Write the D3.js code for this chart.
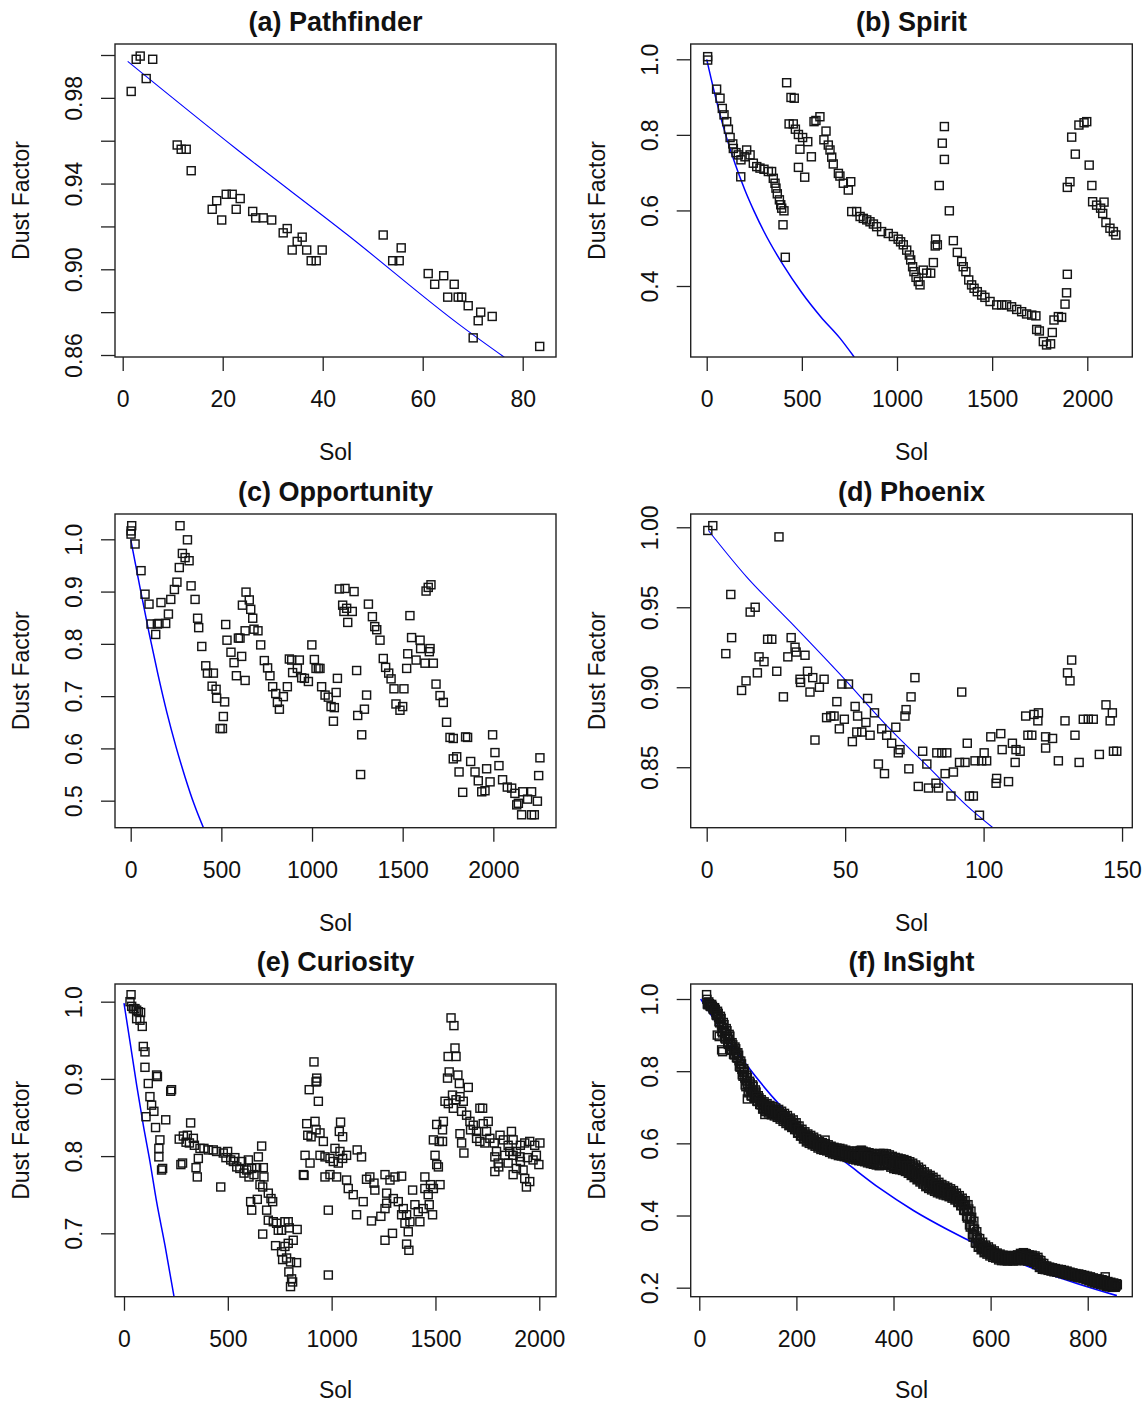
<!DOCTYPE html>
<html>
<head>
<meta charset="utf-8">
<script src="https://cdn.jsdelivr.net/npm/d3@7"></script>
<style>
  body { margin: 0; background: #fff; }
  text { font-family: "Liberation Sans", Arial, sans-serif; fill: #111; }
</style>
</head>
<body>
<svg id="chart" width="1145" height="1403"></svg>
<script>
// ---- data: [sol, dust factor] ----
const pathfinderPts = [[1.7,0.983],[2.7,0.998],[3.5,0.9995],[6.0,0.998],[4.7,0.989],[10.9,0.958],[11.7,0.956],[12.7,0.956],[13.7,0.946],[17.9,0.928],[18.8,0.932],[19.8,0.923],[20.7,0.935],[21.9,0.935],[22.7,0.928],[23.5,0.933],[26.0,0.927],[26.6,0.924],[28.1,0.924],[29.8,0.923],[32.1,0.917],[32.9,0.919],[34.9,0.913],[35.9,0.915],[33.9,0.909],[36.8,0.909],[37.7,0.904],[38.7,0.904],[39.9,0.909],[52.1,0.916],[54.0,0.904],[55.3,0.904],[55.7,0.910],[61.1,0.898],[62.4,0.893],[64.2,0.897],[66.3,0.893],[65.0,0.887],[67.1,0.887],[67.8,0.887],[69.1,0.883],[71.6,0.880],[71.1,0.876],[73.9,0.878],[70.1,0.868],[83.4,0.864]];

const spiritPts = [[5,1.007],[5,0.998],[52,0.921],[70,0.897],[82,0.870],[91,0.853],[105,0.835],[114,0.815],[123,0.793],[137,0.776],[140,0.764],[154,0.753],[166,0.747],[180,0.734],[179,0.689],[210,0.760],[201,0.742],[228,0.747],[245,0.725],[263,0.716],[280,0.712],[301,0.709],[324,0.703],[341,0.703],[350,0.685],[359,0.672],[364,0.659],[371,0.644],[382,0.628],[389,0.615],[394,0.606],[406,0.599],[401,0.562],[413,0.476],
[420,0.938],[443,0.899],[460,0.897],[433,0.829],[455,0.829],[466,0.815],[482,0.801],[504,0.793],[531,0.782],[490,0.762],[550,0.742],[482,0.714],[515,0.688],[574,0.838],[595,0.848],[564,0.835],[627,0.810],[616,0.787],[639,0.773],[648,0.760],[657,0.741],[665,0.723],[692,0.698],[700,0.691],[718,0.672],[757,0.676],[744,0.654],
[762,0.597],[788,0.597],[806,0.584],[823,0.579],[841,0.575],[858,0.570],[876,0.564],[893,0.557],[919,0.544],[954,0.539],[981,0.531],[1006,0.524],[1019,0.517],[1033,0.509],[1051,0.495],[1065,0.482],[1072,0.469],[1082,0.451],[1089,0.438],[1100,0.423],[1112,0.412],[1121,0.403],[1138,0.442],[1156,0.434],[1177,0.434],[1191,0.462],[1203,0.524],[1212,0.509],[1201,0.506],[1222,0.666],[1238,0.778],[1249,0.822],[1249,0.735],[1275,0.599],[1296,0.520],[1317,0.489],[1340,0.465],[1348,0.451],[1362,0.438],[1377,0.416],[1392,0.403],[1405,0.394],[1422,0.385],[1445,0.376],[1462,0.370],[1489,0.359],[1524,0.350],[1550,0.350],[1576,0.350],[1602,0.345],[1629,0.338],[1655,0.332],[1681,0.326],[1708,0.323],[1730,0.321],[1734,0.285],[1748,0.281],[1769,0.253],[1786,0.244],[1807,0.247],[1816,0.277],[1825,0.310],[1848,0.319],[1865,0.317],[1883,0.352],[1891,0.382],[1895,0.431],[1895,0.661],[1909,0.676],[1937,0.749],[1918,0.794],[1956,0.826],[1983,0.832],[1997,0.835],[2010,0.720],[2024,0.666],[2028,0.623],[2049,0.614],[2088,0.622],[2070,0.606],[2081,0.592],[2098,0.568],[2119,0.553],[2137,0.544],[2150,0.535]];

const opportunityPts = [[5.5,1.026],[2,1.016],[2,1.010],[24,0.991],[57,0.940],[79,0.895],[101,0.876],[112,0.838],[138,0.818],[147,0.838],[156,0.839],[193,0.839],[167,0.879],[208,0.857],[221,0.885],[241,0.904],[255,0.918],[268,0.946],[272,1.026],[285,0.973],[300,0.965],[322,0.959],[313,0.999],[333,0.911],[355,0.885],[369,0.849],[375,0.831],[392,0.795],[414,0.758],[423,0.744],[456,0.744],[449,0.719],[471,0.713],[474,0.696],[518,0.689],[511,0.661],[493,0.638],[506,0.638],[524,0.837],[531,0.807],[553,0.784],[570,0.764],[583,0.739],[594,0.811],[603,0.811],[612,0.776],[631,0.730],[631,0.825],[616,0.874],[636,0.899],[654,0.884],[662,0.866],[673,0.849],[680,0.828],[702,0.825],[717,0.798],[737,0.768],[755,0.754],[768,0.739],[783,0.718],[800,0.705],[809,0.688],[820,0.675],[842,0.699],[864,0.718],[875,0.771],[888,0.769],[893,0.745],[919,0.753],[930,0.769],[943,0.735],[958,0.734],[980,0.728],[999,0.798],[1013,0.770],[1022,0.753],[1035,0.753],[1044,0.753],[1053,0.718],[1072,0.702],[1090,0.698],[1105,0.680],[1123,0.678],[1118,0.652],[1140,0.734],[1133,0.707],[1151,0.905],[1182,0.906],[1169,0.874],[1191,0.868],[1176,0.862],[1197,0.841],[1222,0.862],[1232,0.900],[1246,0.749],[1301,0.702],[1289,0.675],[1252,0.663],[1274,0.626],[1268,0.550],[1311,0.876],[1333,0.852],[1346,0.833],[1357,0.827],[1375,0.807],[1393,0.772],[1406,0.755],[1423,0.744],[1436,0.733],[1452,0.714],[1507,0.714],[1463,0.685],[1485,0.673],[1500,0.680],[1540,0.854],[1549,0.812],[1596,0.807],[1599,0.791],[1651,0.791],[1647,0.785],[1528,0.781],[1522,0.753],[1574,0.769],[1623,0.763],[1669,0.763],[1629,0.901],[1641,0.908],[1656,0.913],[1684,0.723],[1706,0.701],[1724,0.688],[1742,0.650],[1761,0.621],[1779,0.619],[1847,0.622],[1858,0.621],[1779,0.580],[1798,0.584],[1811,0.555],[1831,0.516],[1875,0.575],[1899,0.555],[1917,0.538],[1936,0.517],[1954,0.519],[1963,0.561],[1982,0.536],[1996,0.626],[2009,0.592],[2031,0.567],[2051,0.540],[2077,0.526],[2101,0.524],[2119,0.514],[2138,0.495],[2162,0.517],[2189,0.503],[2211,0.517],[2156,0.473],[2211,0.473],[2226,0.473],[2243,0.499],[2250,0.548],[2257,0.582],[2129,0.492]];

const phoenixPts = [[0.4,0.998],[2.2,1.001],[26.1,0.994],[8.7,0.958],[17.5,0.950],[15.7,0.947],[9.0,0.931],[6.9,0.921],[22.0,0.930],[23.5,0.930],[18.9,0.919],[20.7,0.916],[30.5,0.931],[31.9,0.925],[32.3,0.922],[35.5,0.920],[29.3,0.919],[18.3,0.909],[14.2,0.904],[12.6,0.898],[25.3,0.910],[27.7,0.894],[36.4,0.910],[33.7,0.905],[33.9,0.903],[38.3,0.906],[37.3,0.897],[40.7,0.900],[42.4,0.905],[39.1,0.867],[48.8,0.902],[51.2,0.902],[47.0,0.891],[43.3,0.881],[44.8,0.882],[46.0,0.882],[49.7,0.880],[47.9,0.874],[53.6,0.888],[54.5,0.882],[58.1,0.893],[60.6,0.884],[57.5,0.878],[54.2,0.872],[56.0,0.872],[59.0,0.870],[52.6,0.866],[63.2,0.874],[65.0,0.870],[68.3,0.875],[66.8,0.865],[69.8,0.861],[69.2,0.859],[71.6,0.882],[72.0,0.886],[73.8,0.894],[75.2,0.906],[62.0,0.852],[64.2,0.846],[73.0,0.849],[78.0,0.860],[79.5,0.852],[76.4,0.838],[80.1,0.837],[82.8,0.840],[83.7,0.837],[83.1,0.859],[84.9,0.859],[86.7,0.859],[86.1,0.846],[88.2,0.832],[89.1,0.847],[91.3,0.853],[93.3,0.853],[92.1,0.897],[94.1,0.865],[94.9,0.832],[96.3,0.832],[96.9,0.854],[99.3,0.854],[101.1,0.854],[100.2,0.859],[98.5,0.820],[102.6,0.869],[104.5,0.840],[104.7,0.843],[106.2,0.871],[106.7,0.861],[109.0,0.841],[110.4,0.865],[111.4,0.853],[111.7,0.861],[113.2,0.860],[115.2,0.882],[116.0,0.870],[117.4,0.870],[118.2,0.883],[119.8,0.884],[119.6,0.879],[122.4,0.869],[124.9,0.868],[122.4,0.862],[127.0,0.854],[129.4,0.879],[130.3,0.909],[131.8,0.917],[131.2,0.904],[133.0,0.870],[134.5,0.853],[136.0,0.880],[137.8,0.880],[139.6,0.880],[141.8,0.858],[144.2,0.889],[146.5,0.884],[145.7,0.879],[146.9,0.860],[148.1,0.860]];

const curiosityPts = [[34,1.009],[29,1.000],[37,0.994],[45,0.991],[53,0.991],[61,0.989],[69,0.987],[61,0.978],[80,0.986],[77,0.976],[88,0.968],[93,0.942],[101,0.935],[101,0.915],[117,0.894],[157,0.905],[161,0.903],[125,0.877],[133,0.866],[144,0.858],[106,0.851],[152,0.837],[201,0.847],[225,0.884],[229,0.886],[173,0.821],[168,0.810],[168,0.799],[181,0.782],[186,0.784],
[274,0.789],[282,0.791],[266,0.822],[286,0.826],[305,0.827],[321,0.843],[299,0.818],[315,0.817],[334,0.823],[339,0.814],[347,0.785],[353,0.773],[358,0.797],[366,0.810],[385,0.810],[406,0.808],[430,0.808],[446,0.806],[466,0.760],[478,0.804],[491,0.798],[499,0.806],[514,0.795],[527,0.793],[534,0.798],[543,0.786],[558,0.784],[567,0.793],[578,0.778],[591,0.782],[599,0.795],[602,0.773],[615,0.784],[626,0.776],[639,0.785],[647,0.799],[663,0.813],[655,0.763],[671,0.785],[674,0.773],[668,0.760],[695,0.752],[708,0.745],[716,0.741],[642,0.744],[615,0.730],[610,0.741],[668,0.699],[687,0.730],[695,0.717],[719,0.715],[735,0.713],[743,0.704],[759,0.704],[775,0.715],[791,0.715],[796,0.707],[834,0.705],[815,0.691],[730,0.684],[759,0.676],[775,0.683],[783,0.668],[764,0.666],[802,0.663],[831,0.662],[794,0.650],[807,0.641],[802,0.631],[812,0.637],[791,0.687],
[915,0.922],[928,0.901],[925,0.896],[928,0.897],[892,0.886],[936,0.871],[864,0.776],[867,0.775],[984,0.730],[984,0.646],[880,0.842],[920,0.845],[925,0.834],[885,0.827],[901,0.825],[944,0.830],[960,0.819],[872,0.801],[896,0.791],[944,0.801],[968,0.799],[992,0.797],[1008,0.793],[1016,0.810],[1043,0.844],[1037,0.832],[1053,0.825],[1040,0.806],[1032,0.791],[1053,0.797],[1072,0.801],[1123,0.808],[1144,0.799],[968,0.773],[992,0.776],[1024,0.773],[1072,0.769],[1080,0.758],[1104,0.750],[1120,0.724],[1152,0.741],[1168,0.770],[1184,0.773],[1204,0.765],[1208,0.756],[1192,0.716],[1237,0.722],[1257,0.732],[1265,0.752],[1257,0.776],[1281,0.769],[1305,0.773],[1337,0.774],[1265,0.739],[1297,0.745],[1321,0.741],[1345,0.732],[1337,0.724],[1361,0.724],[1377,0.715],[1353,0.713],[1257,0.691],[1293,0.700],[1361,0.686],[1372,0.678],[1369,0.702],[1390,0.756],[1401,0.737],[1417,0.728],[1425,0.715],[1441,0.732],[1449,0.773],[1449,0.758],[1465,0.750],[1470,0.737],[1476,0.763],[1486,0.724],[1490,0.758],[1506,0.789],[1522,0.763],[1498,0.801],[1514,0.786],[1490,0.821],[1518,0.819],[1506,0.841],[1534,0.834],[1538,0.845],[1534,0.819],
[1575,0.979],[1589,0.969],[1594,0.940],[1599,0.929],[1561,0.929],[1566,0.909],[1558,0.901],[1608,0.905],[1615,0.894],[1658,0.889],[1546,0.871],[1562,0.868],[1582,0.879],[1599,0.873],[1618,0.877],[1634,0.871],[1586,0.862],[1626,0.858],[1650,0.853],[1618,0.829],[1626,0.817],[1637,0.804],[1666,0.845],[1682,0.840],[1669,0.834],[1698,0.832],[1714,0.862],[1727,0.862],[1730,0.842],[1746,0.832],[1754,0.845],[1698,0.823],[1714,0.819],[1738,0.817],[1762,0.823],[1783,0.817],[1794,0.806],[1811,0.827],[1827,0.821],[1850,0.814],[1866,0.832],[1874,0.821],[1786,0.799],[1802,0.791],[1834,0.801],[1850,0.791],[1874,0.801],[1890,0.806],[1909,0.814],[1930,0.817],[1954,0.819],[1978,0.814],[2003,0.817],[1786,0.780],[1805,0.786],[1874,0.776],[1890,0.784],[1909,0.793],[1922,0.782],[1930,0.771],[1938,0.760],[1954,0.767],[1943,0.798],[1970,0.795],[1986,0.801],[1998,0.789],[1907,0.799],[1858,0.806]];

// InSight: near-daily points forming a dense band; A/B hold its upper and lower edge, C its middle
const insightPtsA = [[15,1.012],[18,0.984],[21,0.987],[24,0.979],[27,0.980],[30,0.970],[33,0.971],[36,0.954],[39,0.960],[42,0.934],[45,0.946],[48,0.906],[51,0.929],[54,0.889],[57,0.912],[60,0.874],[63,0.897],[66,0.858],[69,0.873],[72,0.845],[75,0.862],[78,0.836],[81,0.844],[84,0.811],[87,0.820],[90,0.786],[93,0.800],[96,0.757],[99,0.783],[102,0.740],[105,0.767],[108,0.731],[111,0.758],[114,0.725],[117,0.742],[120,0.716],[123,0.726],[126,0.707],[129,0.716],[132,0.696],[135,0.708],[138,0.692],[141,0.702],[144,0.688],[147,0.697],[150,0.683],[153,0.694],[156,0.680],[159,0.690],[162,0.676],[165,0.686],[168,0.671],[171,0.680],[174,0.665],[177,0.674],[180,0.659],[183,0.668],[186,0.652],[189,0.662],[192,0.647],[195,0.656],[198,0.640],[201,0.647],[204,0.630],[207,0.638],[210,0.622],[213,0.630],[216,0.614],[219,0.623],[222,0.607],[225,0.618],[228,0.604],[231,0.614],[234,0.600],[237,0.609],[240,0.596],[243,0.603],[246,0.591],[249,0.597],[252,0.588],[255,0.595],[258,0.586],[261,0.592],[264,0.584],[267,0.589],[270,0.579],[273,0.585],[276,0.576],[279,0.582],[282,0.574],[285,0.580],[288,0.571],[291,0.579],[294,0.570],[297,0.577],[300,0.568],[303,0.574],[306,0.566],[309,0.572],[312,0.564],[315,0.570],[318,0.561],[321,0.571],[324,0.559],[327,0.573],[330,0.557],[333,0.574],[336,0.556],[339,0.571],[342,0.554],[345,0.569],[348,0.551],[351,0.567],[354,0.549],[357,0.565],[360,0.548],[363,0.564],[366,0.545],[369,0.564],[372,0.543],[375,0.565],[378,0.545],[381,0.566],[384,0.548],[387,0.564],[390,0.544],[393,0.560],[396,0.538],[399,0.556],[402,0.535],[405,0.554],[408,0.534],[411,0.552],[414,0.533],[417,0.550],[420,0.530],[423,0.548],[426,0.526],[429,0.545],[432,0.520],[435,0.541],[438,0.514],[441,0.537],[444,0.508],[447,0.531],[450,0.502],[453,0.525],[456,0.496],[459,0.519],[462,0.490],[465,0.512],[468,0.483],[471,0.507],[474,0.479],[477,0.503],[480,0.475],[483,0.498],[486,0.471],[489,0.490],[492,0.468],[495,0.482],[498,0.464],[501,0.478],[504,0.462],[507,0.474],[510,0.460],[513,0.470],[516,0.456],[519,0.466],[522,0.452],[525,0.460],[528,0.446],[531,0.453],[534,0.438],[537,0.445],[540,0.428],[543,0.440],[546,0.414],[549,0.430],[552,0.393],[555,0.418],[558,0.368],[561,0.395],[564,0.340],[567,0.362],[570,0.323],[573,0.338],[576,0.313],[579,0.323],[582,0.308],[585,0.316],[588,0.301],[591,0.311],[594,0.297],[597,0.306],[600,0.293],[603,0.299],[606,0.289],[609,0.295],[612,0.285],[615,0.290],[618,0.281],[621,0.287],[624,0.280],[627,0.285],[630,0.280],[633,0.283],[636,0.279],[639,0.284],[642,0.280],[645,0.283],[648,0.279],[651,0.284],[654,0.280],[657,0.287],[660,0.280],[663,0.291],[666,0.281],[669,0.293],[672,0.280],[675,0.287],[678,0.279],[681,0.286],[684,0.277],[687,0.284],[690,0.274],[693,0.282],[696,0.265],[699,0.277],[702,0.257],[705,0.268],[708,0.254],[711,0.260],[714,0.252],[717,0.256],[720,0.250],[723,0.253],[726,0.248],[729,0.251],[732,0.247],[735,0.249],[738,0.245],[741,0.248],[744,0.243],[747,0.246],[750,0.241],[753,0.244],[756,0.239],[759,0.242],[762,0.237],[765,0.239],[768,0.235],[771,0.237],[774,0.233],[777,0.236],[780,0.231],[783,0.234],[786,0.229],[789,0.232],[792,0.227],[795,0.230],[798,0.224],[801,0.228],[804,0.221],[807,0.226],[810,0.217],[813,0.223],[816,0.215],[819,0.222],[822,0.213],[825,0.220],[828,0.211],[831,0.218],[834,0.209],[837,0.216],[840,0.206],[843,0.213],[846,0.205],[849,0.211],[852,0.204],[855,0.209],[858,0.204],[861,0.208],
[37,0.900],[41,0.896],[46,0.859],[48,0.854],[99,0.723],[135,0.680],[259,0.609],[334,0.581],[372,0.572],[671,0.295],[836,0.230]];

const insightPtsB = [[16.5,0.986],[19.5,0.992],[22.5,0.980],[25.5,0.985],[28.5,0.972],[31.5,0.976],[34.5,0.956],[37.5,0.966],[40.5,0.937],[43.5,0.952],[46.5,0.910],[49.5,0.935],[52.5,0.892],[55.5,0.918],[58.5,0.877],[61.5,0.902],[64.5,0.860],[67.5,0.879],[70.5,0.847],[73.5,0.867],[76.5,0.838],[79.5,0.851],[82.5,0.814],[85.5,0.828],[88.5,0.790],[91.5,0.807],[94.5,0.762],[97.5,0.789],[100.5,0.743],[103.5,0.772],[106.5,0.732],[109.5,0.762],[112.5,0.726],[115.5,0.748],[118.5,0.717],[121.5,0.732],[124.5,0.708],[127.5,0.721],[130.5,0.695],[133.5,0.715],[136.5,0.688],[139.5,0.710],[142.5,0.684],[145.5,0.705],[148.5,0.679],[151.5,0.702],[154.5,0.676],[157.5,0.698],[160.5,0.672],[163.5,0.694],[166.5,0.667],[169.5,0.689],[172.5,0.661],[175.5,0.683],[178.5,0.655],[181.5,0.677],[184.5,0.649],[187.5,0.670],[190.5,0.644],[193.5,0.665],[196.5,0.638],[199.5,0.657],[202.5,0.628],[205.5,0.648],[208.5,0.620],[211.5,0.639],[214.5,0.612],[217.5,0.632],[220.5,0.604],[223.5,0.626],[226.5,0.600],[229.5,0.622],[232.5,0.596],[235.5,0.617],[238.5,0.592],[241.5,0.612],[244.5,0.587],[247.5,0.605],[250.5,0.583],[253.5,0.602],[256.5,0.581],[259.5,0.599],[262.5,0.579],[265.5,0.596],[268.5,0.575],[271.5,0.592],[274.5,0.571],[277.5,0.589],[280.5,0.569],[283.5,0.587],[286.5,0.566],[289.5,0.586],[292.5,0.565],[295.5,0.584],[298.5,0.563],[301.5,0.581],[304.5,0.561],[307.5,0.579],[310.5,0.559],[313.5,0.577],[316.5,0.556],[319.5,0.577],[322.5,0.554],[325.5,0.579],[328.5,0.552],[331.5,0.580],[334.5,0.551],[337.5,0.578],[340.5,0.549],[343.5,0.576],[346.5,0.546],[349.5,0.574],[352.5,0.544],[355.5,0.572],[358.5,0.542],[361.5,0.570],[364.5,0.540],[367.5,0.570],[370.5,0.538],[373.5,0.571],[376.5,0.539],[379.5,0.572],[382.5,0.541],[385.5,0.571],[388.5,0.539],[391.5,0.568],[394.5,0.534],[397.5,0.564],[400.5,0.530],[403.5,0.561],[406.5,0.528],[409.5,0.559],[412.5,0.527],[415.5,0.557],[418.5,0.525],[421.5,0.555],[424.5,0.522],[427.5,0.552],[430.5,0.517],[433.5,0.549],[436.5,0.511],[439.5,0.545],[442.5,0.505],[445.5,0.540],[448.5,0.499],[451.5,0.534],[454.5,0.493],[457.5,0.528],[460.5,0.487],[463.5,0.521],[466.5,0.480],[469.5,0.515],[472.5,0.475],[475.5,0.511],[478.5,0.471],[481.5,0.506],[484.5,0.467],[487.5,0.500],[490.5,0.463],[493.5,0.492],[496.5,0.460],[499.5,0.486],[502.5,0.457],[505.5,0.482],[508.5,0.455],[511.5,0.478],[514.5,0.452],[517.5,0.474],[520.5,0.448],[523.5,0.469],[526.5,0.443],[529.5,0.462],[532.5,0.436],[535.5,0.455],[538.5,0.427],[541.5,0.448],[544.5,0.415],[547.5,0.441],[550.5,0.398],[553.5,0.430],[556.5,0.374],[559.5,0.412],[562.5,0.348],[565.5,0.384],[568.5,0.325],[571.5,0.355],[574.5,0.312],[577.5,0.336],[580.5,0.305],[583.5,0.326],[586.5,0.297],[589.5,0.318],[592.5,0.293],[595.5,0.313],[598.5,0.288],[601.5,0.307],[604.5,0.284],[607.5,0.302],[610.5,0.282],[613.5,0.296],[616.5,0.277],[619.5,0.293],[622.5,0.275],[625.5,0.290],[628.5,0.275],[631.5,0.289],[634.5,0.274],[637.5,0.289],[640.5,0.275],[643.5,0.288],[646.5,0.274],[649.5,0.289],[652.5,0.275],[655.5,0.291],[658.5,0.275],[661.5,0.295],[664.5,0.276],[667.5,0.297],[670.5,0.275],[673.5,0.294],[676.5,0.274],[679.5,0.291],[682.5,0.273],[685.5,0.290],[688.5,0.270],[691.5,0.288],[694.5,0.264],[697.5,0.284],[700.5,0.256],[703.5,0.275],[706.5,0.251],[709.5,0.267],[712.5,0.250],[715.5,0.260],[718.5,0.248],[721.5,0.257],[724.5,0.246],[727.5,0.255],[730.5,0.244],[733.5,0.253],[736.5,0.243],[739.5,0.251],[742.5,0.241],[745.5,0.250],[748.5,0.239],[751.5,0.248],[754.5,0.237],[757.5,0.246],[760.5,0.235],[763.5,0.243],[766.5,0.233],[769.5,0.241],[772.5,0.231],[775.5,0.239],[778.5,0.229],[781.5,0.238],[784.5,0.227],[787.5,0.236],[790.5,0.225],[793.5,0.234],[796.5,0.222],[799.5,0.232],[802.5,0.219],[805.5,0.230],[808.5,0.216],[811.5,0.227],[814.5,0.213],[817.5,0.225],[820.5,0.211],[823.5,0.224],[826.5,0.209],[829.5,0.222],[832.5,0.207],[835.5,0.220],[838.5,0.204],[841.5,0.217],[844.5,0.202],[847.5,0.215],[850.5,0.201],[853.5,0.213],[856.5,0.201],[859.5,0.211]];

const insightPtsC = [[15.75,0.999],[18.75,0.988],[21.75,0.984],[24.75,0.982],[27.75,0.976],[30.75,0.973],[33.75,0.964],[36.75,0.960],[39.75,0.949],[42.75,0.943],[45.75,0.928],[48.75,0.921],[51.75,0.911],[54.75,0.904],[57.75,0.895],[60.75,0.888],[63.75,0.879],[66.75,0.869],[69.75,0.860],[72.75,0.856],[75.75,0.850],[78.75,0.844],[81.75,0.829],[84.75,0.820],[87.75,0.805],[90.75,0.797],[93.75,0.781],[96.75,0.773],[99.75,0.763],[102.75,0.756],[105.75,0.750],[108.75,0.747],[111.75,0.742],[114.75,0.737],[117.75,0.730],[120.75,0.724],[123.75,0.717],[126.75,0.714],[129.75,0.706],[132.75,0.706],[135.75,0.698],[138.75,0.701],[141.75,0.693],[144.75,0.697],[147.75,0.688],[150.75,0.693],[153.75,0.685],[156.75,0.689],[159.75,0.681],[162.75,0.685],[165.75,0.677],[168.75,0.680],[171.75,0.671],[174.75,0.674],[177.75,0.665],[180.75,0.668],[183.75,0.659],[186.75,0.661],[189.75,0.653],[192.75,0.656],[195.75,0.647],[198.75,0.649],[201.75,0.638],[204.75,0.639],[207.75,0.629],[210.75,0.631],[213.75,0.621],[216.75,0.623],[219.75,0.614],[222.75,0.617],[225.75,0.609],[228.75,0.613],[231.75,0.605],[234.75,0.609],[237.75,0.601],[240.75,0.604],[243.75,0.595],[246.75,0.598],[249.75,0.590],[252.75,0.595],[255.75,0.588],[258.75,0.593],[261.75,0.586],[264.75,0.590],[267.75,0.582],[270.75,0.586],[273.75,0.578],[276.75,0.583],[279.75,0.576],[282.75,0.581],[285.75,0.573],[288.75,0.579],[291.75,0.572],[294.75,0.577],[297.75,0.570],[300.75,0.575],[303.75,0.568],[306.75,0.573],[309.75,0.566],[312.75,0.571],[315.75,0.563],[318.75,0.569],[321.75,0.563],[324.75,0.569],[327.75,0.563],[330.75,0.569],[333.75,0.563],[336.75,0.567],[339.75,0.560],[342.75,0.565],[345.75,0.558],[348.75,0.563],[351.75,0.556],[354.75,0.561],[357.75,0.554],[360.75,0.559],[363.75,0.552],[366.75,0.558],[369.75,0.551],[372.75,0.557],[375.75,0.552],[378.75,0.559],[381.75,0.554],[384.75,0.560],[387.75,0.552],[390.75,0.556],[393.75,0.547],[396.75,0.551],[399.75,0.543],[402.75,0.548],[405.75,0.541],[408.75,0.547],[411.75,0.540],[414.75,0.545],[417.75,0.538],[420.75,0.543],[423.75,0.535],[426.75,0.539],[429.75,0.531],[432.75,0.535],[435.75,0.526],[438.75,0.530],[441.75,0.521],[444.75,0.524],[447.75,0.515],[450.75,0.518],[453.75,0.509],[456.75,0.512],[459.75,0.503],[462.75,0.506],[465.75,0.496],[468.75,0.499],[471.75,0.491],[474.75,0.495],[477.75,0.487],[480.75,0.491],[483.75,0.483],[486.75,0.486],[489.75,0.477],[492.75,0.480],[495.75,0.471],[498.75,0.475],[501.75,0.468],[504.75,0.472],[507.75,0.465],[510.75,0.469],[513.75,0.461],[516.75,0.465],[519.75,0.457],[522.75,0.461],[525.75,0.452],[528.75,0.454],[531.75,0.445],[534.75,0.447],[537.75,0.436],[540.75,0.438],[543.75,0.428],[546.75,0.428],[549.75,0.414],[552.75,0.412],[555.75,0.396],[558.75,0.390],[561.75,0.372],[564.75,0.362],[567.75,0.344],[570.75,0.339],[573.75,0.325],[576.75,0.325],[579.75,0.314],[582.75,0.317],[585.75,0.307],[588.75,0.310],[591.75,0.302],[594.75,0.305],[597.75,0.297],[600.75,0.300],[603.75,0.292],[606.75,0.296],[609.75,0.289],[612.75,0.291],[615.75,0.284],[618.75,0.287],[621.75,0.281],[624.75,0.285],[627.75,0.280],[630.75,0.285],[633.75,0.279],[636.75,0.284],[639.75,0.280],[642.75,0.284],[645.75,0.279],[648.75,0.284],[651.75,0.280],[654.75,0.286],[657.75,0.281],[660.75,0.288],[663.75,0.284],[666.75,0.289],[669.75,0.284],[672.75,0.287],[675.75,0.281],[678.75,0.285],[681.75,0.280],[684.75,0.284],[687.75,0.277],[690.75,0.281],[693.75,0.273],[696.75,0.275],[699.75,0.267],[702.75,0.266],[705.75,0.260],[708.75,0.261],[711.75,0.255],[714.75,0.256],[717.75,0.252],[720.75,0.254],[723.75,0.250],[726.75,0.252],[729.75,0.248],[732.75,0.250],[735.75,0.246],[738.75,0.248],[741.75,0.245],[744.75,0.247],[747.75,0.243],[750.75,0.245],[753.75,0.241],[756.75,0.243],[759.75,0.239],[762.75,0.240],[765.75,0.236],[768.75,0.238],[771.75,0.234],[774.75,0.236],[777.75,0.233],[780.75,0.235],[783.75,0.231],[786.75,0.233],[789.75,0.229],[792.75,0.231],[795.75,0.226],[798.75,0.228],[801.75,0.224],[804.75,0.226],[807.75,0.221],[810.75,0.222],[813.75,0.218],[816.75,0.220],[819.75,0.217],[822.75,0.219],[825.75,0.215],[828.75,0.217],[831.75,0.213],[834.75,0.215],[837.75,0.210],[840.75,0.212],[843.75,0.208],[846.75,0.210],[849.75,0.206],[852.75,0.209],[855.75,0.205],[858.75,0.208]];

// blue model curves, knots
const pathfinderFit = [[1,0.997],[22.8,0.956],[45,0.916],[68,0.873],[76.3,0.859]];
const spiritFit = [[0,1.0],[50,0.893],[100,0.800],[150,0.722],[200,0.655],[250,0.597],[300,0.545],[400,0.457],[500,0.382],[600,0.318],[700,0.262],[775,0.212]];
const opportunityFit = [[0,1.0],[50,0.91],[100,0.823],[150,0.742],[200,0.668],[250,0.603],[300,0.545],[350,0.493],[405,0.445]];
const phoenixFit = [[0.6,0.998],[14.4,0.969],[30.1,0.941],[48.2,0.908],[65,0.876],[81.9,0.847],[93.9,0.826],[103.5,0.812]];
const curiosityFit = [[0,0.998],[29,0.948],[61,0.892],[93,0.840],[125,0.793],[157,0.741],[197,0.685],[241,0.618]];
const insightFit = [[2.7,1.0],[42.6,0.919],[97.5,0.817],[166,0.706],[235,0.614],[303.5,0.545],[372,0.475],[441,0.414],[510,0.362],[578,0.316],[647,0.275],[716,0.239],[784,0.209],[860,0.178]];

// tick values
const pathfinderXTicks = [0, 20, 40, 60, 80];
const pathfinderYTicks = [0.86, 0.88, 0.90, 0.92, 0.94, 0.96, 0.98, 1.00];
const pathfinderYLabels = [0.86, 0.90, 0.94, 0.98];
const spiritXTicks = [0, 500, 1000, 1500, 2000];
const spiritYTicks = [0.4, 0.6, 0.8, 1.0];
const opportunityXTicks = [0, 500, 1000, 1500, 2000];
const opportunityYTicks = [0.5, 0.6, 0.7, 0.8, 0.9, 1.0];
const phoenixXTicks = [0, 50, 100, 150];
const phoenixYTicks = [0.85, 0.90, 0.95, 1.00];
const curiosityXTicks = [0, 500, 1000, 1500, 2000];
const curiosityYTicks = [0.7, 0.8, 0.9, 1.0];
const insightXTicks = [0, 200, 400, 600, 800];
const insightYTicks = [0.2, 0.4, 0.6, 0.8, 1.0];

const titles = ["(a) Pathfinder", "(b) Spirit", "(c) Opportunity", "(d) Phoenix", "(e) Curiosity", "(f) InSight"];

// layout of each panel (box in pixels, axis limits)
const panels = [
  {pts: pathfinderPts, fit: pathfinderFit, xt: pathfinderXTicks, yt: pathfinderYTicks, yl: pathfinderYLabels, dec: 2, lw: 1.1,
   box: [115, 44, 556, 357], xd: [-1.54, 86.66], yd: [0.85907, 1.00513]},
  {pts: spiritPts, fit: spiritFit, xt: spiritXTicks, yt: spiritYTicks, yl: spiritYTicks, dec: 1, lw: 1.5,
   box: [690.7, 44, 1132.3, 357], xd: [-84.1, 2236.5], yd: [0.2121, 1.0405]},
  {pts: opportunityPts, fit: opportunityFit, xt: opportunityXTicks, yt: opportunityYTicks, yl: opportunityYTicks, dec: 1, lw: 1.5,
   box: [115, 514, 556, 827.7], xd: [-86.6, 2345.6], yd: [0.4483, 1.0484]},
  {pts: phoenixPts, fit: phoenixFit, xt: phoenixXTicks, yt: phoenixYTicks, yl: phoenixYTicks, dec: 2, lw: 1.1,
   box: [690.7, 514, 1132.3, 827.7], xd: [-5.78, 153.7], yd: [0.8122, 1.0083]},
  {pts: curiosityPts, fit: curiosityFit, xt: curiosityXTicks, yt: curiosityYTicks, yl: curiosityYTicks, dec: 1, lw: 1.5,
   box: [115, 984, 556, 1296.7], xd: [-43.3, 2080.5], yd: [0.6179, 1.0229]},
  {pts: insightPtsA.concat(insightPtsB, insightPtsC), fit: insightFit, xt: insightXTicks, yt: insightYTicks, yl: insightYTicks, dec: 1, lw: 1.6,
   box: [690.7, 984, 1132.3, 1296.7], xd: [-17.7, 891.8], yd: [0.175, 1.0416]}
];

const svg = d3.select("#chart");
const axisFont = 23;
const sq = 8; // square marker size

panels.forEach((p, i) => {
  const [x0, y0, x1, y1] = p.box;
  const x = d3.scaleLinear().domain(p.xd).range([x0, x1]);
  const y = d3.scaleLinear().domain(p.yd).range([y1, y0]);
  const g = svg.append("g");

  g.append("clipPath").attr("id", "clip" + i)
    .append("rect").attr("x", x0).attr("y", y0).attr("width", x1 - x0).attr("height", y1 - y0);

  // x axis
  const xa = g.append("g").attr("transform", `translate(0,${y1})`)
    .call(d3.axisBottom(x).tickValues(p.xt).tickSize(14).tickPadding(19.7).tickFormat(d3.format("d")));
  xa.select(".domain").remove();
  xa.selectAll("line").attr("stroke", "#222").attr("stroke-width", 1.3);
  xa.selectAll("text").attr("font-size", axisFont).attr("fill", "#111")
    .attr("font-family", "Liberation Sans, Arial, sans-serif");

  // y axis, labels parallel to the axis
  const fmt = d3.format("." + p.dec + "f");
  const ya = g.append("g").attr("transform", `translate(${x0},0)`)
    .call(d3.axisLeft(y).tickValues(p.yt).tickSize(14)
      .tickFormat(v => p.yl.some(l => Math.abs(l - v) < 1e-9) ? fmt(v) : ""));
  ya.select(".domain").remove();
  ya.selectAll("line").attr("stroke", "#222").attr("stroke-width", 1.3);
  ya.selectAll("text").attr("x", null).attr("dy", null)
    .attr("text-anchor", "middle")
    .attr("transform", "translate(-33,0) rotate(-90)")
    .attr("font-size", axisFont).attr("fill", "#111")
    .attr("font-family", "Liberation Sans, Arial, sans-serif");

  // model curve
  const line = d3.line().x(d => x(d[0])).y(d => y(d[1])).curve(d3.curveMonotoneX);
  g.append("path")
    .attr("d", line(p.fit))
    .attr("clip-path", `url(#clip${i})`)
    .attr("fill", "none").attr("stroke", "#0000ff").attr("stroke-width", p.lw);

  // points (open squares)
  g.append("g").selectAll("rect").data(p.pts).join("rect")
    .attr("x", d => x(d[0]) - sq / 2).attr("y", d => y(d[1]) - sq / 2)
    .attr("width", sq).attr("height", sq)
    .attr("fill", "none").attr("stroke", "#151515").attr("stroke-width", 1.45);

  // box
  g.append("rect").attr("x", x0).attr("y", y0).attr("width", x1 - x0).attr("height", y1 - y0)
    .attr("fill", "none").attr("stroke", "#222").attr("stroke-width", 1.4);

  // titles and axis names
  g.append("text").attr("x", (x0 + x1) / 2).attr("y", y0 - 13.5)
    .attr("text-anchor", "middle").attr("font-size", 27).attr("font-weight", "bold")
    .text(titles[i]);
  g.append("text").attr("x", (x0 + x1) / 2).attr("y", Math.min(y1 + 103, 1397.5))
    .attr("text-anchor", "middle").attr("font-size", axisFont).text("Sol");
  g.append("text").attr("transform", `translate(${x0 - 86},${(y0 + y1) / 2}) rotate(-90)`)
    .attr("text-anchor", "middle").attr("font-size", axisFont).text("Dust Factor");
});
</script>
</body>
</html>
